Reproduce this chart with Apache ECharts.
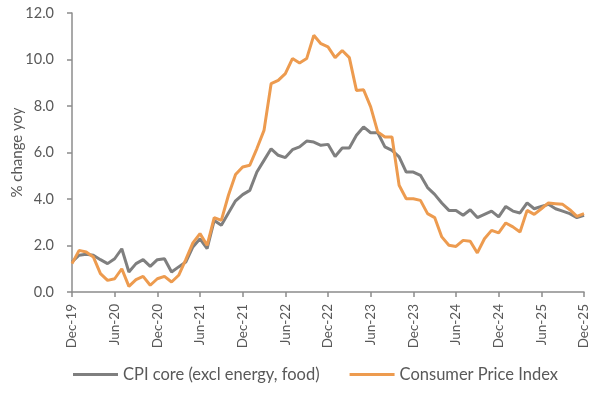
<!DOCTYPE html>
<html><head><meta charset="utf-8">
<script src="https://cdn.jsdelivr.net/npm/echarts@6/dist/echarts.min.js"></script>
<style>html,body{margin:0;padding:0;background:#fff}#c{width:600px;height:394px}</style>
</head><body><div id="c"></div>
<script>
const months = (function(){
  const m=['Jan','Feb','Mar','Apr','May','Jun','Jul','Aug','Sep','Oct','Nov','Dec'];
  const out=['Dec-19'];
  for(let y=20;y<=25;y++){for(let k=0;k<12;k++){out.push(m[k]+'-'+y);}}
  return out;
})();
const coreCPI = [1.29,1.58,1.62,1.58,1.39,1.22,1.43,1.86,0.86,1.22,1.39,1.10,1.39,1.43,0.86,1.08,1.29,1.94,2.29,1.86,3.08,2.87,3.40,3.92,
  4.19,4.37,5.16,5.66,6.16,5.88,5.78,6.12,6.24,6.49,6.45,6.31,6.35,5.83,6.19,6.19,6.74,7.10,6.85,6.85,6.24,6.09,5.81,5.16,
  5.16,5.02,4.49,4.20,3.83,3.51,3.51,3.30,3.54,3.20,3.34,3.48,3.23,3.68,3.48,3.40,3.83,3.58,3.68,3.77,3.58,3.48,3.37,3.20,3.30];
const headlineCPI = [1.22,1.79,1.72,1.51,0.79,0.50,0.57,1.00,0.24,0.53,0.67,0.29,0.57,0.67,0.43,0.72,1.39,2.11,2.51,2.01,3.20,3.08,4.16,5.05,
  5.38,5.45,6.17,6.95,8.96,9.10,9.39,10.04,9.85,10.04,11.04,10.68,10.54,10.08,10.39,10.08,8.67,8.70,7.96,6.88,6.67,6.67,4.59,4.01,
  4.01,3.94,3.37,3.20,2.37,2.01,1.96,2.22,2.18,1.68,2.29,2.65,2.54,2.97,2.80,2.58,3.51,3.34,3.58,3.83,3.80,3.77,3.54,3.25,3.37];
const yTicks = [0,2,4,6,8,10,12];
const seriesNames = ['CPI core (excl energy, food)','Consumer Price Index'];

const txt='#595959', font='Lato, "Open Sans", "Liberation Sans", sans-serif';
const chart = echarts.init(document.getElementById('c'));
chart.setOption({
  animation:false,
  textStyle:{fontFamily:font},
  grid:{left:72,right:16,top:13,bottom:102,containLabel:false,outerBoundsMode:'none'},
  legend:{bottom:6,left:68,itemWidth:45,itemHeight:3,itemGap:30,icon:'rect',
    textStyle:{color:txt,fontSize:16.5,fontFamily:font},
    data:seriesNames},
  xAxis:{type:'category',data:months,boundaryGap:false,
    axisLine:{lineStyle:{color:'#8c8c8c',width:1.5}},
    axisTick:{interval:5,length:5,lineStyle:{color:'#8c8c8c',width:1.5}},
    axisLabel:{interval:5,rotate:90,color:txt,fontSize:13.5,margin:12,fontFamily:font}},
  yAxis:{type:'value',min:yTicks[0],max:yTicks[yTicks.length-1],interval:2,
    name:'% change yoy',nameLocation:'middle',nameGap:47,nameRotate:90,nameMoveOverlap:false,
    nameTextStyle:{color:txt,fontSize:15,fontFamily:font},
    axisLine:{show:true,lineStyle:{color:'#8c8c8c',width:1.5}},
    axisTick:{show:true,length:5,lineStyle:{color:'#8c8c8c',width:1.5}},
    splitLine:{show:false},
    axisLabel:{color:txt,fontSize:14.5,margin:18,fontFamily:font,formatter:v=>v.toFixed(1)}},
  series:[
    {name:seriesNames[0],type:'line',data:coreCPI,symbol:'none',lineStyle:{color:'#7f7f7f',width:3},itemStyle:{color:'#7f7f7f'}},
    {name:seriesNames[1],type:'line',data:headlineCPI,symbol:'none',lineStyle:{color:'#ed9b4f',width:3},itemStyle:{color:'#ed9b4f'}}
  ]
});
</script></body></html>
